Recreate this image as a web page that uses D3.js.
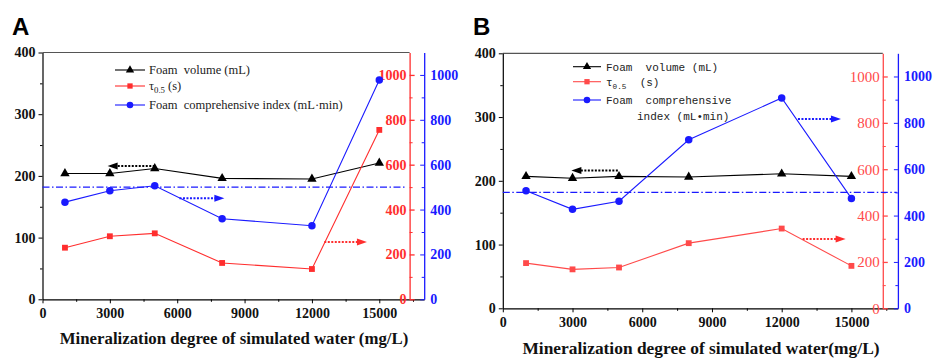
<!DOCTYPE html>
<html>
<head>
<meta charset="utf-8">
<script src="https://cdn.jsdelivr.net/npm/d3@7"></script>
<style>
  body { margin: 0; background: #fff; }
  svg { display: block; }
  .serif { font-family: 'Liberation Serif', 'Times New Roman', serif; }
  .mono { font-family: 'Liberation Mono', 'Courier New', monospace; }
</style>
</head>
<body>
<svg id="chart-svg" width="936" height="360"></svg>
<script>
// Data
const mineralization = [1000, 3000, 5000, 8000, 12000, 15000];

const foamVolumeA = [204, 204, 212, 196, 195, 221];
const tauA = [230, 281, 294, 162, 135, 755];
const indexA = [433, 484, 506, 359, 328, 977];

const foamVolumeB = [207, 204, 207, 206, 211, 207];
const tauB = [195, 168, 176, 281, 344, 183];
const indexB = [507, 427, 462, 727, 907, 474];

const xTicks = [0, 3000, 6000, 9000, 12000, 15000];
const leftTicks = [0, 100, 200, 300, 400];
const rightTicks = [0, 200, 400, 600, 800, 1000];
const referenceIndex = 500;

const svg = d3.select('#chart-svg');
const fmt = d3.format("d");

// Draw one panel
const drawPanel = (cfg) => {
    const x = d3.scaleLinear().domain([0, 17000]).range([cfg.left, cfg.right]);
    const yL = d3.scaleLinear().domain([0, 400]).range([cfg.bottom, cfg.top]);
    const yR = d3.scaleLinear().domain([0, 1100]).range([cfg.bottom, cfg.top]);
    const redX = x(16350);
    const blueX = x(17000);
    const g = svg.append("g");

    // panel letter
    g.append("text").attr("x", cfg.letterX).attr("y", 35)
        .style("font-family", "Arial, 'Liberation Sans', sans-serif")
        .style("font-weight", "bold").style("font-size", "24px")
        .text(cfg.letter);

    // top frame line
    g.append("line").attr("x1", cfg.left).attr("x2", redX)
        .attr("y1", cfg.top).attr("y2", cfg.top)
        .attr("stroke", "#555").attr("stroke-width", 1.2);

    // bottom axis
    const xAxis = g.append("g").attr("transform", "translate(0," + cfg.bottom + ")")
        .call(d3.axisBottom(x).tickValues(xTicks).tickFormat(fmt).tickSize(4).tickPadding(5).tickSizeOuter(0));
    xAxis.select(".domain").attr("stroke-width", 1.2);
    xAxis.selectAll("text").attr("class", "serif").style("font-weight", "bold")
        .style("font-size", "14px").attr("fill", "#111");
    g.append("g").attr("transform", "translate(0," + cfg.bottom + ")")
        .call(d3.axisBottom(x).tickValues(d3.range(1500, 17000, 3000)).tickSize(2.5).tickFormat(""))
        .select(".domain").remove();

    // left axis
    const yAxis = g.append("g").attr("transform", "translate(" + cfg.left + ",0)")
        .call(d3.axisLeft(yL).tickValues(leftTicks).tickFormat(fmt).tickSize(4).tickPadding(3).tickSizeOuter(0));
    yAxis.select(".domain").attr("stroke-width", 1.2);
    yAxis.selectAll("text").attr("class", "serif").style("font-weight", "bold")
        .style("font-size", "14px").attr("fill", "#111");
    g.append("g").attr("transform", "translate(" + cfg.left + ",0)")
        .call(d3.axisLeft(yL).tickValues([50, 150, 250, 350]).tickSize(2.5).tickFormat(""))
        .select(".domain").remove();

    // red axis (labels inside, ticks outside)
    const redAxis = g.append("g").attr("transform", "translate(" + redX + ",0)")
        .call(d3.axisRight(yR).tickValues(rightTicks).tickFormat(fmt).tickSize(5).tickSizeOuter(0));
    redAxis.selectAll(".domain, line").attr("stroke", cfg.red).attr("stroke-width", 1.3);
    redAxis.selectAll("text").attr("text-anchor", "end").attr("x", -3)
        .attr("class", "serif").style("font-weight", cfg.redBold ? "bold" : "normal")
        .style("font-size", cfg.redBold ? "14px" : "15px").attr("fill", cfg.red);
    g.append("g").attr("transform", "translate(" + redX + ",0)")
        .call(d3.axisRight(yR).tickValues([100, 300, 500, 700, 900]).tickSize(3).tickFormat(""))
        .call(s => s.select(".domain").remove())
        .selectAll("line").attr("stroke", cfg.red);

    // blue axis
    const blueAxis = g.append("g").attr("transform", "translate(" + blueX + ",0)")
        .call(d3.axisRight(yR).tickValues(rightTicks).tickFormat(fmt).tickSize(0).tickPadding(6).tickSizeOuter(0));
    blueAxis.selectAll(".domain").attr("stroke", "#1a1aff").attr("stroke-width", 1.3);
    blueAxis.selectAll("text").attr("class", "serif").style("font-weight", "bold")
        .style("font-size", "14px").attr("fill", "#1a1aff");
    g.append("g").attr("transform", "translate(" + blueX + ",0)")
        .call(d3.axisLeft(yR).tickValues(rightTicks).tickSize(4).tickFormat(""))
        .call(s => s.select(".domain").remove())
        .selectAll("line").attr("stroke", "#1a1aff");
    g.append("g").attr("transform", "translate(" + blueX + ",0)")
        .call(d3.axisLeft(yR).tickValues([100, 300, 500, 700, 900]).tickSize(2.5).tickFormat(""))
        .call(s => s.select(".domain").remove())
        .selectAll("line").attr("stroke", "#1a1aff");

    // reference dash-dot line
    g.append("line").attr("x1", x(0)).attr("x2", x(cfg.refEnd))
        .attr("y1", yR(referenceIndex)).attr("y2", yR(referenceIndex))
        .attr("stroke", "#1a1aff").attr("stroke-width", 1.2)
        .attr("stroke-dasharray", "7,2.5,1.5,2.5");

    // series
    const series = [
        {vals: cfg.foam, y: yL, color: "#000", shape: d3.symbolTriangle, size: 38},
        {vals: cfg.tau, y: yR, color: cfg.red, shape: d3.symbolSquare, size: 34},
        {vals: cfg.index, y: yR, color: "#1a1aff", shape: d3.symbolCircle, size: 44}
    ];
    series.forEach(s => {
        const pts = mineralization.map((m, i) => [x(m), s.y(s.vals[i])]);
        g.append("path").datum(pts)
            .attr("fill", "none").attr("stroke", s.color).attr("stroke-width", 1.1)
            .attr("d", d3.line());
        g.selectAll(null).data(pts).enter().append("path")
            .attr("transform", d => "translate(" + d[0] + "," + d[1] + ")")
            .attr("d", d3.symbol().type(s.shape).size(s.size))
            .attr("fill", s.color);
    });

    // dotted arrows
    cfg.arrows.forEach(a => {
        const y = a.axis === "left" ? yL(a.v) : yR(a.v);
        const x1 = x(a.from), x2 = x(a.to);
        const dir = x2 > x1 ? 1 : -1;
        g.append("line").attr("x1", x1).attr("x2", x2 - dir * 7).attr("y1", y).attr("y2", y)
            .attr("stroke", a.color).attr("stroke-width", 2).attr("stroke-dasharray", "2,1.5");
        g.append("path")
            .attr("d", "M" + x2 + "," + y + "L" + (x2 - dir * 10) + "," + (y - 3.5) +
                "L" + (x2 - dir * 10) + "," + (y + 3.5) + "Z")
            .attr("fill", a.color);
    });

    // legend
    const leg = cfg.legend;
    const items = [
        {color: "#000", shape: d3.symbolTriangle, size: 30},
        {color: cfg.red, shape: d3.symbolSquare, size: 28},
        {color: "#1a1aff", shape: d3.symbolCircle, size: 34}
    ];
    items.forEach((it, i) => {
        const y = leg.rows[i];
        g.append("line").attr("x1", leg.x1).attr("x2", leg.x2).attr("y1", y).attr("y2", y)
            .attr("stroke", it.color).attr("stroke-width", 1.1);
        g.append("path").attr("transform", "translate(" + ((leg.x1 + leg.x2) / 2) + "," + y + ")")
            .attr("d", d3.symbol().type(it.shape).size(it.size)).attr("fill", it.color);
    });
    const txt = (y, xx) => g.append("text").attr("x", xx).attr("y", y + 4)
        .attr("class", leg.font).style("font-size", leg.size + "px").attr("fill", "#222")
        .style("white-space", "pre");
    txt(leg.rows[0], leg.tx).text(leg.labels[0]);
    const t2 = txt(leg.rows[1], leg.tx);
    t2.append("tspan").text("τ");
    t2.append("tspan").attr("dy", 3).style("font-size", (leg.size * 0.7) + "px").text("0.5");
    t2.append("tspan").attr("dy", -3).text(leg.labels[1]);
    txt(leg.rows[2], leg.tx).text(leg.labels[2]);
    if (leg.labels[3]) txt(leg.rows[3], leg.tx2).text(leg.labels[3]);

    // x title
    g.append("text").attr("x", cfg.titleX).attr("y", cfg.titleY).attr("text-anchor", "middle")
        .attr("class", "serif").style("font-weight", "bold").style("font-size", cfg.titleSize + "px")
        .attr("fill", "#111").text(cfg.title);
};

drawPanel({
    letter: "A", letterX: 12,
    left: 42.5, right: 424.2, top: 52.5, bottom: 299.3,
    red: "#ff2e2e", redBold: true, refEnd: 16150,
    foam: foamVolumeA, tau: tauA, index: indexA,
    arrows: [
        {axis: "left", v: 216, from: 5000, to: 2900, color: "#000"},
        {axis: "right", v: 450, from: 6100, to: 8100, color: "#1a1aff"},
        {axis: "right", v: 255, from: 12550, to: 14450, color: "#ff2e2e"}
    ],
    legend: {x1: 115, x2: 145, tx: 149, tx2: 149, rows: [70, 86, 105],
        font: "serif", size: 12.5,
        labels: ["Foam  volume (mL)", " (s)", "Foam  comprehensive index (mL·min)"]},
    title: "Mineralization degree of simulated water (mg/L)",
    titleX: 234, titleY: 344, titleSize: 16.8
});

drawPanel({
    letter: "B", letterX: 473,
    left: 502.8, right: 897.9, top: 53.3, bottom: 308.3,
    red: "#ff4a4a", redBold: false, refEnd: 16950,
    foam: foamVolumeB, tau: tauB, index: indexB,
    arrows: [
        {axis: "left", v: 216, from: 4950, to: 2950, color: "#000"},
        {axis: "right", v: 817, from: 12700, to: 14550, color: "#1a1aff"},
        {axis: "right", v: 299, from: 12900, to: 14750, color: "#ff2e2e"}
    ],
    legend: {x1: 573, x2: 601, tx: 606, tx2: 637, rows: [66.7, 81.7, 100, 116],
        font: "mono", size: 11,
        labels: ["Foam  volume (mL)", "  (s)", "Foam  comprehensive", "index (mL•min)"]},
    title: "Mineralization degree of simulated water(mg/L)",
    titleX: 701, titleY: 354, titleSize: 17.4
});
</script>
</body>
</html>
